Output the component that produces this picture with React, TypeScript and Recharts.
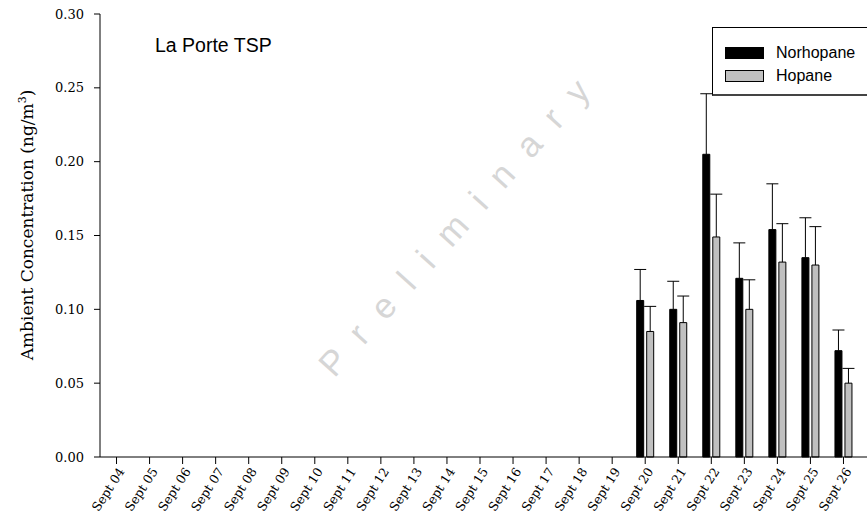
import React from 'react';
import { BarChart, Bar, XAxis, YAxis, Label } from 'recharts';

const dates = [
  'Sept 04', 'Sept 05', 'Sept 06', 'Sept 07', 'Sept 08', 'Sept 09', 'Sept 10', 'Sept 11',
  'Sept 12', 'Sept 13', 'Sept 14', 'Sept 15', 'Sept 16', 'Sept 17', 'Sept 18', 'Sept 19',
  'Sept 20', 'Sept 21', 'Sept 22', 'Sept 23', 'Sept 24', 'Sept 25', 'Sept 26',
];
const empty = Array(16).fill(null);
const norhopane = [...empty, 0.106, 0.100, 0.205, 0.121, 0.154, 0.135, 0.072];
const norhopaneErr = [...empty, 0.021, 0.019, 0.041, 0.024, 0.031, 0.027, 0.014];
const hopane = [...empty, 0.085, 0.091, 0.149, 0.100, 0.132, 0.130, 0.050];
const hopaneErr = [...empty, 0.017, 0.018, 0.029, 0.020, 0.026, 0.026, 0.010];
const yTicks = [0, 0.05, 0.1, 0.15, 0.2, 0.25, 0.3];
const seriesNames = ['Norhopane', 'Hopane'];
const seriesColors = ['#000', '#c0c0c0'];

const data = dates.map((d, i) => ({
  date: d,
  Norhopane: norhopane[i],
  norErr: norhopaneErr[i],
  Hopane: hopane[i],
  hopErr: hopaneErr[i],
}));

const serif = '"DejaVu Serif", serif';
const sans = '"Liberation Sans", Arial, sans-serif';

// upward-only error bar drawn on top of the stacked segment
const ErrShape = (p: any) => {
  const { x, y, width, height } = p;
  if (!height) return <g />;
  const cx = x + width / 2;
  return (
    <g stroke="#000" strokeWidth={1}>
      <line x1={cx} y1={y + height} x2={cx} y2={y} />
      <line x1={cx - 6} y1={y} x2={cx + 6} y2={y} />
    </g>
  );
};

const DateTick = (p: any) => {
  const { x, y, payload } = p;
  return (
    <g transform={`translate(${x + 5},${y + 3})`}>
      <text
        textAnchor="end"
        transform="rotate(-57)"
        fontFamily={serif}
        fontSize={12.5}
        fill="#000"
        dy="0.35em"
      >
        {payload.value}
      </text>
    </g>
  );
};

const LegendBox = () => (
  <div
    style={{
      position: 'absolute',
      left: 712,
      top: 27,
      width: 155,
      height: 69,
      background: '#fff',
      border: '1px solid #000',
      borderRight: 'none',
      borderBottom: '2px solid #444',
      boxSizing: 'border-box',
      paddingTop: 13,
      paddingLeft: 12,
      fontFamily: sans,
      fontSize: 16,
      lineHeight: '20px',
    }}
  >
    {seriesNames.map((name, i) => (
      <div key={name} style={{ display: 'flex', alignItems: 'center', height: 23 }}>
        <span
          style={{
            display: 'inline-block',
            width: 39,
            height: 12,
            background: seriesColors[i],
            border: '1px solid #000',
            boxSizing: 'border-box',
            marginRight: 12,
          }}
        />
        <span>{name}</span>
      </div>
    ))}
  </div>
);

export default function App() {
  return (
    <div style={{ position: 'absolute', left: 0, top: 0, width: 867, height: 518, background: '#fff' }}>
      <BarChart
        width={867}
        height={518}
        data={data}
        margin={{ top: 14, right: 0, bottom: 0, left: 40 }}
        barGap={3}
        barSize={7}
      >
        <XAxis
          dataKey="date"
          interval={0}
          height={61}
          padding={{ left: 0, right: 7 }}
          axisLine={{ stroke: '#000' }}
          tickLine={{ stroke: '#000' }}
          tickSize={7}
          tick={<DateTick />}
        />
        <XAxis
          xAxisId="top"
          orientation="top"
          dataKey="date"
          height={0}
          tick={false}
          tickLine={false}
          axisLine={{ stroke: '#000' }}
        />
        <YAxis
          width={60}
          domain={[0, 0.3]}
          ticks={yTicks}
          tickFormatter={(v: number) => v.toFixed(2)}
          axisLine={{ stroke: '#000' }}
          tickLine={{ stroke: '#000' }}
          tickSize={6}
          tickMargin={10}
          tick={{ fontFamily: serif, fontSize: 13, fill: '#000' }}
        >
          <Label
            content={() => (
              <text
                transform="translate(33,225) rotate(-90)"
                textAnchor="middle"
                fontFamily={serif}
                fontSize={17}
                fill="#000"
              >
                Ambient Concentration (ng/m
                <tspan dy={-7} fontSize={11}>3</tspan>
                <tspan dy={7}>)</tspan>
              </text>
            )}
          />
        </YAxis>
        <Bar dataKey="Norhopane" stackId="n" fill={seriesColors[0]} stroke="#000" isAnimationActive={false} />
        <Bar dataKey="norErr" stackId="n" legendType="none" shape={ErrShape} isAnimationActive={false} />
        <Bar dataKey="Hopane" stackId="h" fill={seriesColors[1]} stroke="#000" isAnimationActive={false} />
        <Bar dataKey="hopErr" stackId="h" legendType="none" shape={ErrShape} isAnimationActive={false} />
        <text x={155} y={52} fontFamily={sans} fontSize={19.5} fill="#000">
          La Porte TSP
        </text>
        <text
          transform="translate(470,228) rotate(-48)"
          textAnchor="middle"
          fontFamily={sans}
          fontSize={35}
          letterSpacing={21}
          fill="#d6d6d6"
        >
          Preliminary
        </text>
      </BarChart>
      <LegendBox />
    </div>
  );
}
